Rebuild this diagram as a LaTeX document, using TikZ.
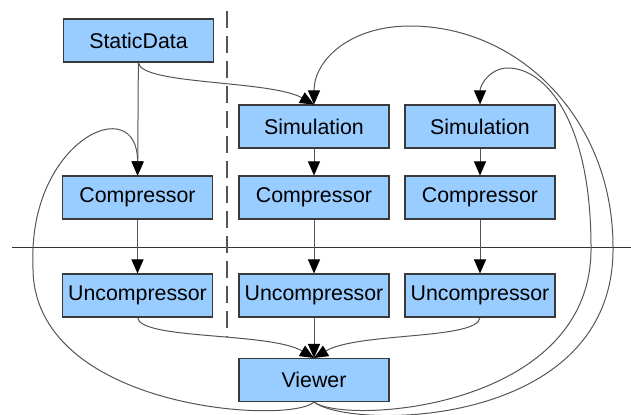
\documentclass[tikz,border=0pt]{standalone}
\usepackage{fontspec}
\setsansfont{Liberation Sans}
\usetikzlibrary{arrows.meta}
\definecolor{cbox}{HTML}{99CCFF}
\definecolor{cedge}{HTML}{3A3A3A}
\definecolor{cline}{HTML}{555555}
\tikzset{
  every picture/.style={font=\sffamily\fontsize{16}{19}\selectfont, x=0.75pt, y=-0.75pt},
  box/.style={draw=cedge, fill=cbox, line width=0.8pt, minimum width=112.5pt, minimum height=32.25pt, inner sep=0pt},
  arrow/.style={-{Triangle[length=10.5pt, width=9pt, color=black]}, draw=cline, line width=0.75pt},
  divider/.style={draw=black!80, line width=0.75pt},
}

\begin{document}
\begin{tikzpicture}
  \useasboundingbox (0,0) rectangle (631,414);
  % separators
  \draw[divider] (12,247) -- (631,247);
  \draw[cline, line width=1pt, dash pattern=on 12.75pt off 6pt] (227,11) -- (227,337);
  % nodes
  \node[box] (static) at (138.5,40.5) {StaticData};
  \node[box] (comp1) at (137.5,197.5) {Compressor};
  \node[box] (unc1) at (137.5,295.5) {Uncompressor};
  \node[box] (sim2) at (314,126.5) {Simulation};
  \node[box] (comp2) at (314,197.5) {Compressor};
  \node[box] (unc2) at (314,295.5) {Uncompressor};
  \node[box] (sim3) at (480,126.5) {Simulation};
  \node[box] (comp3) at (480,197.5) {Compressor};
  \node[box] (unc3) at (480,295.5) {Uncompressor};
  \node[box] (viewer) at (314,380) {Viewer};
  % pipeline
  \draw[arrow] (static) -- (comp1);
  \draw[arrow] (static.south) .. controls (140,85) and (270,80) .. (sim2.north);
  \foreach \s/\c/\u in {sim2/comp2/unc2, sim3/comp3/unc3} {
    \draw[arrow] (\s) -- (\c);
    \draw[arrow] (\c) -- (\u);
  }
  \draw[arrow] (comp1) -- (unc1);
  \draw[arrow] (unc2) -- (viewer);
  \draw[arrow] (unc1.south) .. controls (140,340) and (270,332) .. (viewer.north);
  \draw[arrow] (unc3.south) .. controls (478,340) and (358,332) .. (viewer.north);
  % feedback loops
  \draw[arrow] (viewer.south) .. controls (290,425) and (30,410) .. (33,265)
    .. controls (28,140) and (138,90) .. (comp1.north);
  \draw[arrow] (viewer.south) .. controls (350,430) and (615,430) .. (613,247)
    .. controls (613,120) and (520,26) .. (410,26)
    .. controls (350,26) and (314,60) .. (sim2.north);
  \draw[arrow] (viewer.south) .. controls (345,425) and (593,410) .. (591,247)
    .. controls (591,120) and (545,68) .. (508,68)
    .. controls (490,68) and (480,85) .. (sim3.north);
\end{tikzpicture}
\end{document}
